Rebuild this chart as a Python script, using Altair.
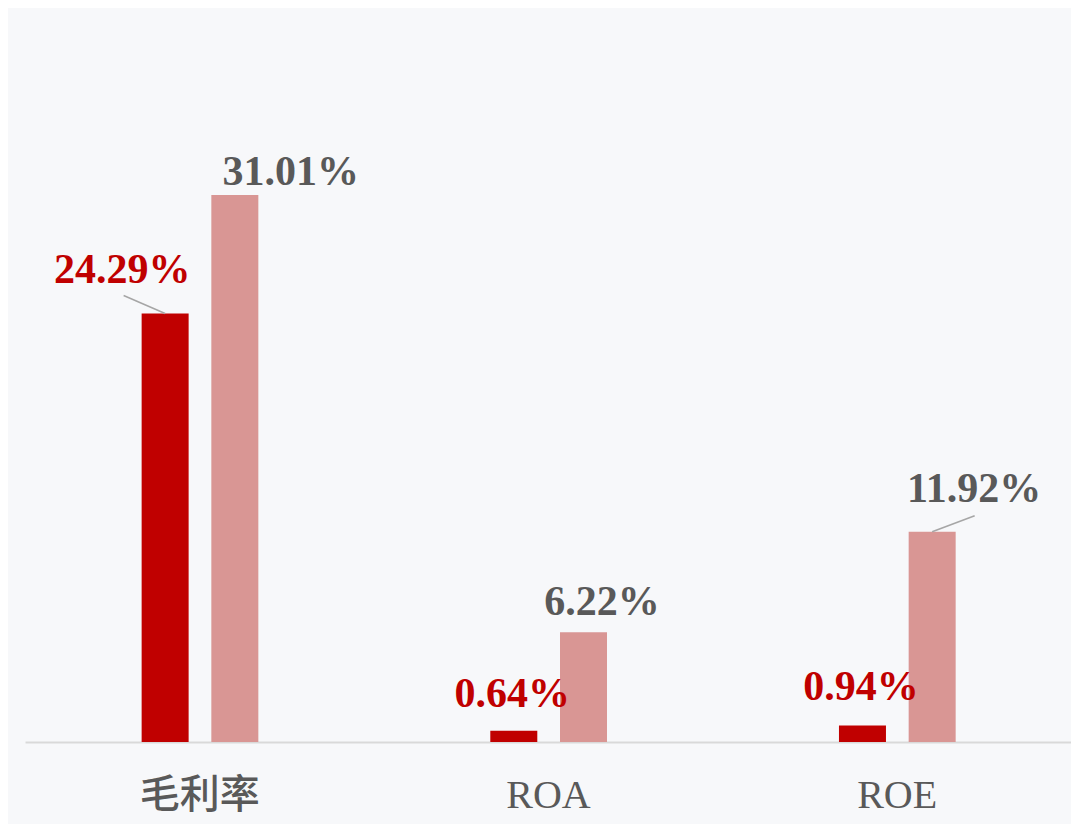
import json
import altair as alt
import pandas as pd

# ---- data ----
categories = ["毛利率", "ROA", "ROE"]
series_names = ["本公司", "行业"]
series_a = [24.29, 0.64, 0.94]
series_b = [31.01, 6.22, 11.92]

# ---- layout / style (pixels) ----
W, H = 1046, 732
XMAX, YMAX = 3.0, 41.5
PX, PY = W / XMAX, H / YMAX
bar_offset_px = {series_names[0]: -34.2, series_names[1]: 35.5}
# label offsets (dx from bar centre, dy of baseline from bar top), pixels
label_off_a = [(-43, -31), (-1.5, -24), (-1.5, -25)]
label_off_b = [(56, -10), (18.5, -17), (42, -30)]
# leader lines: (category index, series index, dx, dy) in pixels from bar top
leaders = [(0, 0, -41.5, -18), (2, 1, 42.5, -16)]

RED = "#C00000"
PINK = "#D99694"
GRAY = "#595959"
BG = "#F7F8FA"

rows = []
for s_idx, (name, vals, offs) in enumerate(
    [(series_names[0], series_a, label_off_a), (series_names[1], series_b, label_off_b)]
):
    for i, (cat, v) in enumerate(zip(categories, vals)):
        xc = i + 0.5 + bar_offset_px[name] / PX
        rows.append(
            {
                "category": cat,
                "series": name,
                "value": v,
                "xc": xc,
                "lx": xc + offs[i][0] / PX,
                "ly": v - offs[i][1] / PY,
                "label": f"{v:.2f}%",
            }
        )
df = pd.DataFrame(rows)

lead_rows = []
for ci, si, dx, dy in leaders:
    r = df[(df.category == categories[ci]) & (df.series == series_names[si])].iloc[0]
    lead_rows.append(
        {"x": r.xc, "y": r.value, "x2": r.xc + dx / PX, "y2": r.value - dy / PY}
    )
lead_df = pd.DataFrame(lead_rows)

cat_js = json.dumps(categories, ensure_ascii=False)

xscale = alt.Scale(domain=[0, XMAX], nice=False, zero=False, padding=0)
yscale = alt.Scale(domain=[0, YMAX], nice=False, padding=0)

bars = (
    alt.Chart(df)
    .mark_bar(size=47)
    .encode(
        x=alt.X(
            "xc:Q",
            scale=xscale,
            axis=alt.Axis(
                values=[0.5, 1.5, 2.5],
                labelExpr=f"{cat_js}[floor(datum.value)]",
                title=None,
                grid=False,
                ticks=False,
                domainColor="#D9D9D9",
                domainWidth=2,
                labelColor=GRAY,
                labelFont="'Liberation Serif', 'Noto Sans CJK SC'",
                labelFontSize=40,
                labelFontWeight=500,
                labelPadding=33,
                labelBaseline="top",
            ),
        ),
        y=alt.Y("value:Q", scale=yscale, axis=None),
        color=alt.Color(
            "series:N",
            scale=alt.Scale(domain=series_names, range=[RED, PINK]),
            legend=None,
        ),
    )
)

rules = (
    alt.Chart(lead_df)
    .mark_rule(color="#A6A6A6", strokeWidth=1.5)
    .encode(
        x=alt.X("x:Q", scale=xscale),
        x2="x2:Q",
        y=alt.Y("y:Q", scale=yscale),
        y2="y2:Q",
    )
)

labels = (
    alt.Chart(df)
    .mark_text(
        font="Liberation Serif",
        fontWeight="bold",
        fontSize=42,
        baseline="alphabetic",
        align="center",
    )
    .encode(
        x=alt.X("lx:Q", scale=xscale),
        y=alt.Y("ly:Q", scale=yscale),
        text="label:N",
        color=alt.Color(
            "series:N",
            scale=alt.Scale(domain=series_names, range=[RED, GRAY]),
            legend=None,
        ),
    )
)

chart = (
    alt.layer(bars, rules, labels)
    .resolve_scale(color="independent")
    .properties(
        width=W,
        height=H,
        autosize="none",
        padding={"left": 17, "top": 2, "right": 0, "bottom": 82},
        background=BG,
    )
    .configure_view(stroke=None)
)

chart.save("out.html", embed_options={"renderer": "svg", "actions": False})
